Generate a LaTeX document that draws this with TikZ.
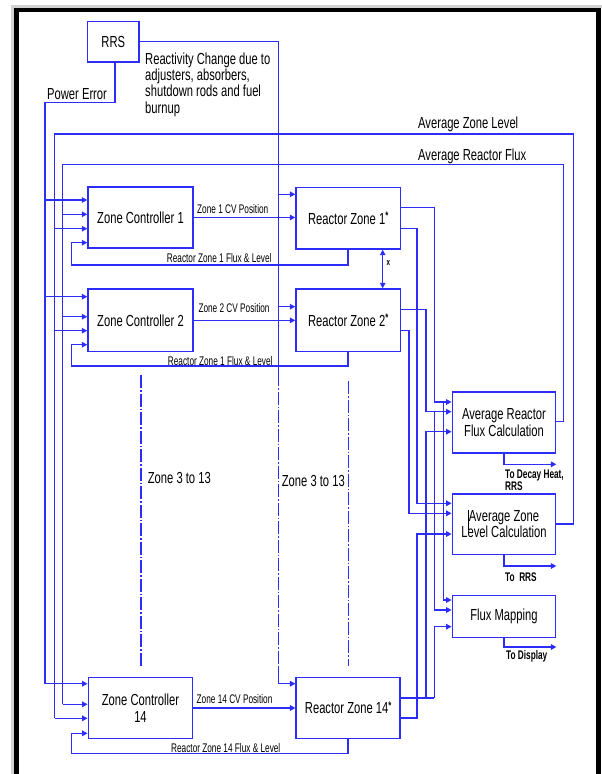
\documentclass[tikz,border=0pt]{standalone}
\usepackage{fontspec}
\setmainfont{Liberation Sans}[FakeStretch=0.7]
\newfontfamily\narrowfont{Liberation Sans}[FakeStretch=0.66]
\usetikzlibrary{arrows.meta,calc}
\definecolor{lb}{RGB}{45,45,250}
\newcommand\zstar{\raisebox{4.5pt}{\fontsize{11}{11}\selectfont\bfseries *}}
\begin{document}
\begin{tikzpicture}[x=1pt,y=-1pt,
  box/.style={draw=lb, line width=1.4pt, fill=white, inner sep=0pt,
    font=\fontsize{16}{16.6}\selectfont, align=center},
  wire/.style={draw=lb, line width=1.4pt},
  arr/.style={wire, -{Triangle[length=5.5pt,width=5.5pt]}},
  darr/.style={wire, {Triangle[length=5.5pt,width=5.5pt]}-{Triangle[length=5.5pt,width=5.5pt]}},
  lbl/.style={font=\fontsize{16}{16.3}\selectfont, inner sep=0pt},
  slbl/.style={font=\narrowfont\fontsize{12.5}{13}\selectfont, inner sep=0pt},
  blbl/.style={font=\narrowfont\bfseries\fontsize{12.5}{10.6}\selectfont, inner sep=0pt, align=left},
  zonedash/.style={draw=lb, line width=1.2pt, dash pattern=on 13pt off 2pt on 1.5pt off 2pt},
]
\useasboundingbox (0,0) rectangle (602,774);
\fill[white] (0,0) rectangle (602,774);

% frame with shadow
\draw[gray!35, line width=3pt] (12.5,790) -- (12.5,6.2) -- (602,6.2);
\draw[black, line width=4.5pt] (16.3,790) -- (16.3,9.8) -- (598.7,9.8) -- (598.7,790);

% boxes
\node[box, minimum width=51.5, minimum height=40.7] (rrs) at (113.25,41.65) {RRS};
\node[box, minimum width=105, minimum height=61] (zc1) at (140.5,217.5) {Zone Controller 1};
\node[box, minimum width=105, minimum height=62.7] (zc2) at (140.5,320.35) {Zone Controller 2};
\node[box, minimum width=104.4, minimum height=61.4] (zc14) at (140.5,708) {Zone Controller\\[0.7pt]14};
\node[box, minimum width=104.3, minimum height=61.3] (rz1) at (348.15,218.35) {Reactor Zone 1\zstar};
\node[box, minimum width=104.3, minimum height=62.7] (rz2) at (348.15,320.35) {Reactor Zone 2\zstar};
\node[box, minimum width=104, minimum height=61.4] (rz14) at (348.15,708) {Reactor Zone 14\zstar};
\node[box, minimum width=103.4, minimum height=61] (af) at (504,422.5) {Average Reactor\\Flux Calculation};
\node[box, minimum width=103.4, minimum height=60.3] (al) at (504,524.15) {Average Zone\\Level Calculation};
\node[box, minimum width=103.4, minimum height=42] (fm) at (504,616.3) {Flux Mapping};

% text cursor artefact inside Average Zone Level Calculation
\draw[black, line width=0.8pt] (468.3,510) -- (468.3,530);

% top labels
\node[lbl, anchor=base west] (lpe) at (47,99.9) {Power Error};
\node[lbl, anchor=north west, align=left] (lrc) at (145,52.6)
  {Reactivity Change due to\\adjusters, absorbers,\\shutdown rods and fuel\\burnup};
\node[lbl, anchor=base west] (lazl) at (418,128.2) {Average Zone Level};
\node[lbl, anchor=base west] (larf) at (418,160.5) {Average Reactor Flux};

% Power error bus
\coordinate (peA) at (115,102.7);
\coordinate (peB) at (45,102.7);
\coordinate (pe1) at (45,200);
\coordinate (pe2) at (45,296.7);
\coordinate (pe14) at (45,683.7);
\draw[wire] (peA |- rrs.south) -- (peA) -- (peB) -- (pe14);
\draw[arr] (pe1) -- (pe1 -| zc1.west);
\draw[arr] (pe2) -- (pe2 -| zc2.west);
\draw[arr] (pe14) -- (pe14 -| zc14.west);

% Average zone level bus
\coordinate (alA) at (573.3,524);
\coordinate (alB) at (573.3,134);
\coordinate (alC) at (54.5,134);
\coordinate (al1) at (54.5,228.7);
\coordinate (al2) at (54.5,330.7);
\coordinate (al14) at (54.5,718.3);
\draw[wire] (al.east |- alA) -- (alA) -- (alB) -- (alC) -- (al14);
\draw[arr] (al1) -- (al1 -| zc1.west);
\draw[arr] (al2) -- (al2 -| zc2.west);
\draw[arr] (al14) -- (al14 -| zc14.west);

% Average reactor flux bus
\coordinate (afA) at (563.3,421.7);
\coordinate (afB) at (563.3,164.7);
\coordinate (afC) at (62.6,164.7);
\coordinate (af1) at (62.6,214.3);
\coordinate (af2) at (62.6,316.7);
\coordinate (af14) at (62.6,704.3);
\draw[wire] (af.east |- afA) -- (afA) -- (afB) -- (afC) -- (af14);
\draw[arr] (af1) -- (af1 -| zc1.west);
\draw[arr] (af2) -- (af2 -| zc2.west);
\draw[arr] (af14) -- (af14 -| zc14.west);

% RRS reactivity change bus
\coordinate (rc0) at (278.7,41.7);
\coordinate (rc1) at (278.7,194.3);
\coordinate (rc2) at (278.7,306.7);
\coordinate (rcd1) at (278.7,373);
\coordinate (rcd2) at (278.7,666);
\coordinate (rc14) at (278.7,683.7);
\draw[wire] (rrs.east |- rc0) -- (rc0) -- (rcd1);
\draw[zonedash] (rcd1) -- (rcd2);
\draw[wire] (rcd2) -- (rc14);
\draw[arr] (rc1) -- (rc1 -| rz1.west);
\draw[arr] (rc2) -- (rc2 -| rz2.west);
\draw[arr] (rc14) -- (rc14 -| rz14.west);

% zone 3 to 13 markers
\coordinate (zd1) at (141,375);
\coordinate (zd2) at (141,666);
\coordinate (zd3) at (348.3,381);
\coordinate (zd4) at (348.3,666);
\draw[zonedash] (zd1) -- (zd2);
\draw[zonedash] (zd3) -- (zd4);
\node[lbl, anchor=base west] (z313a) at (147.7,483.5) {Zone 3 to 13};
\node[lbl, anchor=base west] (z313b) at (281.7,486.5) {Zone 3 to 13};

% CV position
\draw[arr] (zc1.east) -- (zc1.east -| rz1.west);
\draw[arr] (zc2.east) -- (zc2.east -| rz2.west);
\draw[arr] (zc14.east) -- (zc14.east -| rz14.west);
\node[slbl, anchor=base west] (cv1) at (197,213.2) {Zone 1 CV Position};
\node[slbl, anchor=base west] (cv2) at (198.3,312.5) {Zone 2 CV Position};
\node[slbl, anchor=base west] (cv14) at (196.5,703.2) {Zone 14 CV Position};

% feedback loops
\draw[arr] (rz1.south) |- (71.7,265) |- (88,242.7 -| zc1.west);
\draw[arr] (rz2.south) |- (71.7,366) |- (88,344.7 -| zc2.west);
\draw[arr] (rz14.south) |- (71.2,753.7) |- (88,733.3 -| zc14.west);
\node[slbl, anchor=base east] (fb1) at (271.7,262.3) {Reactor Zone 1 Flux \& Level};
\node[slbl, anchor=base east] (fb2) at (272.7,365.8) {Reactor Zone 1 Flux \& Level};
\node[slbl, anchor=base west] (fb14) at (171,752.6) {Reactor Zone 14 Flux \& Level};

% coupling between zones
\draw[darr] (382.7,0 |- rz1.south) -- (382.7,0 |- rz2.north);
\node[font=\narrowfont\bfseries\fontsize{9.5}{9.5}\selectfont, inner sep=0pt] (xm) at (388.3,262.7) {x};

% reactor zone outputs
\draw[arr] (rz1.east |- 0,207.7) -| (434.3,402) -- (af.west |- 0,402);
\draw[arr] (443.3,402) |- (fm.west |- 0,600);
\draw[arr] (rz1.east |- 0,228.3) -| (417,503.3) -- (al.west |- 0,503.3);
\draw[arr] (rz2.east |- 0,309.3) -| (426,411.7) -- (af.west |- 0,411.7);
\draw[arr] (434.3,411.7) |- (fm.west |- 0,610);
\draw[arr] (rz2.east |- 0,330.7) -| (409,513.3) -- (al.west |- 0,513.3);
\draw[wire] (rz14.east |- 0,698) -- (434.3,698);
\draw[arr] (426,698) |- (af.west |- 0,431.7);
\draw[arr] (434.3,698) |- (fm.west |- 0,626.7);
\draw[arr] (rz14.east |- 0,718) -| (417,534) -- (al.west |- 0,534);

% calculation outputs
\draw[arr] (af.south) |- (af.east |- 0,464.3);
\draw[arr] (al.south) |- (al.east |- 0,566);
\draw[arr] (fm.south) |- (fm.east |- 0,647);
\node[blbl, anchor=north west] (o1) at (505,469.2) {To Decay Heat,\\RRS};
\node[blbl, anchor=base west] (o2) at (505,581) {To\ \ RRS};
\node[blbl, anchor=base west] (o3) at (506,659.8) {To Display};
\end{tikzpicture}
\end{document}
